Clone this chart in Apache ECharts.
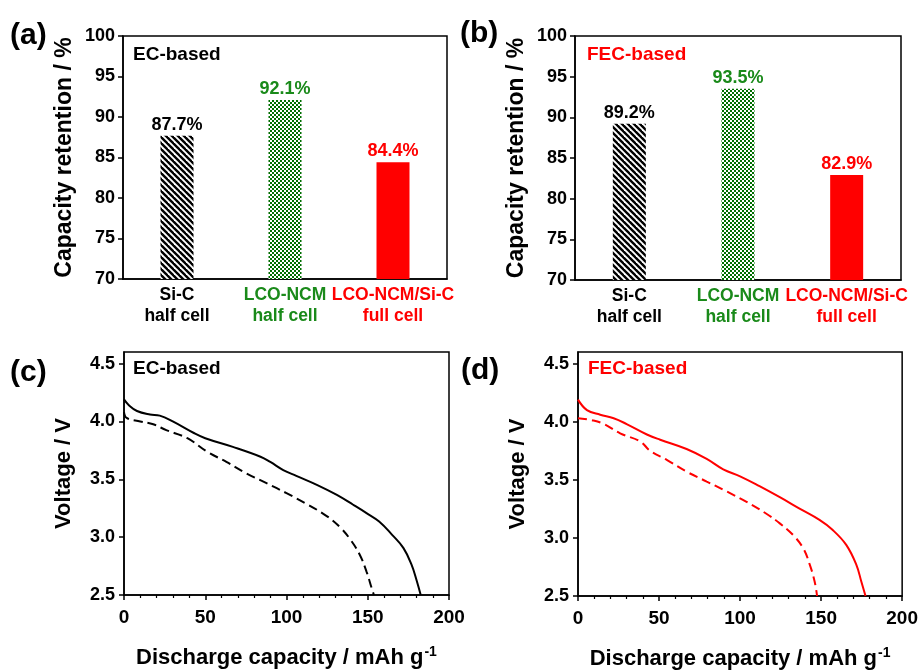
<!DOCTYPE html>
<html>
<head>
<meta charset="utf-8">
<title>Capacity retention and discharge curves</title>
<script src="https://cdn.jsdelivr.net/npm/echarts@6/dist/echarts.min.js"></script>
<style>
  html, body { margin: 0; padding: 0; background: #fff; }
  #main { width: 921px; height: 671px; }
</style>
</head>
<body>
<div id="main"></div>
<script>
// bar panels (a) EC, (b) FEC
const categories = ['Si-C\nhalf cell', 'LCO-NCM\nhalf cell', 'LCO-NCM/Si-C\nfull cell']
const ecRetention = [87.7, 92.1, 84.4]
const fecRetention = [89.2, 93.5, 82.9]

// discharge curves [capacity, voltage], solid = first, dashed = last
const ecFirst = [
  [0, 4.19], [3, 4.14], [8, 4.09], [16, 4.06], [22, 4.05], [30, 4.0], [43, 3.9],
  [50, 3.855], [67, 3.78], [84, 3.695], [90, 3.65], [98, 3.58], [106, 3.53],
  [119, 3.45], [131, 3.365], [141, 3.28], [149, 3.21], [157, 3.135], [165, 3.02],
  [172, 2.905], [177, 2.76], [180, 2.63], [182.6, 2.5]
]
const ecLast = [
  [0, 4.08], [1.6, 4.03], [10, 4.0], [18, 3.975], [26, 3.925], [39, 3.855],
  [51, 3.74], [63, 3.65], [75.5, 3.55], [88, 3.465], [100, 3.38], [112, 3.29],
  [125, 3.18], [133, 3.085], [139, 2.985], [145, 2.85], [149.3, 2.7],
  [152.4, 2.56], [153.8, 2.5]
]
const fecFirst = [
  [0, 4.19], [5.5, 4.1], [13.7, 4.06], [22, 4.03], [30, 3.98], [42.5, 3.89],
  [50.7, 3.845], [67, 3.765], [79.4, 3.68], [89.6, 3.59], [100, 3.53],
  [112, 3.445], [124.5, 3.35], [137, 3.25], [149, 3.155], [157, 3.07],
  [165.5, 2.94], [171.7, 2.77], [174.8, 2.625], [177.4, 2.5]
]
const fecLast = [
  [0, 4.03], [9.6, 4.01], [16, 3.98], [26, 3.9], [38.4, 3.83], [44.5, 3.75],
  [55, 3.67], [67, 3.57], [79.4, 3.485], [91.7, 3.4], [104, 3.31], [116, 3.21],
  [124.5, 3.125], [132.7, 3.025], [139, 2.91], [143, 2.77], [146, 2.625],
  [147.5, 2.5]
]

const barTicks = [70, 75, 80, 85, 90, 95, 100]
const voltTicks = [2.5, 3.0, 3.5, 4.0, 4.5]

const GREEN = '#1a8a1a'
const RED = '#ff0000'
const FONT = 'Liberation Sans, Arial, sans-serif'

function stripePattern() {
  const s = 6
  const c = document.createElement('canvas')
  c.width = s
  c.height = s
  const ctx = c.getContext('2d')
  ctx.fillStyle = '#fff'
  ctx.fillRect(0, 0, s, s)
  ctx.strokeStyle = '#000'
  ctx.lineWidth = 2.4
  for (const o of [-s, 0, s]) {
    ctx.beginPath()
    ctx.moveTo(o - 1, -1)
    ctx.lineTo(o + s + 1, s + 1)
    ctx.stroke()
  }
  return c
}

function checkerPattern() {
  const c = document.createElement('canvas')
  c.width = 4
  c.height = 4
  const ctx = c.getContext('2d')
  ctx.fillStyle = '#fff'
  ctx.fillRect(0, 0, 4, 4)
  ctx.fillStyle = '#006e00'
  ctx.fillRect(0, 0, 2, 2)
  ctx.fillRect(2, 2, 2, 2)
  return c
}

const stripes = stripePattern()
const checker = checkerPattern()
const barColors = [
  { image: stripes, repeat: 'repeat' },
  { image: checker, repeat: 'repeat' },
  RED
]
const labelColors = ['#000', GREEN, RED]

function barData(values) {
  return values.map((v, i) => ({
    value: v,
    itemStyle: { color: barColors[i] },
    label: { color: labelColors[i] }
  }))
}

const grids = [
  { left: 123, top: 36, width: 324, height: 243 },
  { left: 575, top: 36, width: 326, height: 244 },
  { left: 124, top: 352, width: 325, height: 243 },
  { left: 578, top: 352, width: 325, height: 244 }
].map(g => Object.assign(g, { show: true, borderColor: '#000', borderWidth: 1.5, backgroundColor: 'transparent' }))

function catAxis(idx) {
  return {
    type: 'category',
    gridIndex: idx,
    data: categories.map((c, i) => ({ value: c, textStyle: { color: labelColors[i] } })),
    axisLine: { lineStyle: { color: '#000', width: 1.5 } },
    axisTick: { show: false },
    axisLabel: { fontFamily: FONT, fontWeight: 'bold', fontSize: 17.5, lineHeight: 21, margin: 6, interval: 0 }
  }
}

function barYAxis(idx) {
  return {
    type: 'value',
    gridIndex: idx,
    min: 70,
    max: 100,
    interval: 5,
    name: 'Capacity retention / %',
    nameLocation: 'middle',
    nameGap: 47,
    nameTextStyle: { fontFamily: FONT, fontWeight: 'bold', fontSize: 23, color: '#000' },
    axisLine: { show: true, lineStyle: { color: '#000', width: 1.5 } },
    axisTick: { show: true, length: 5, lineStyle: { color: '#000', width: 1.5 }, customValues: barTicks },
    axisLabel: { fontFamily: FONT, fontWeight: 'bold', fontSize: 18, color: '#000', margin: 8, customValues: barTicks },
    splitLine: { show: false }
  }
}

function capAxis(idx) {
  return {
    type: 'value',
    gridIndex: idx,
    min: 0,
    max: 200,
    interval: 50,
    name: '{a|Discharge capacity / mAh g}{s|-1}',
    nameLocation: 'middle',
    nameGap: 50,
    nameTextStyle: {
      rich: {
        a: { fontFamily: FONT, fontWeight: 'bold', fontSize: 22, color: '#000', lineHeight: 26 },
        s: { fontFamily: FONT, fontWeight: 'bold', fontSize: 14, color: '#000', lineHeight: 26, verticalAlign: 'top', padding: [0, 0, 10, 1] }
      }
    },
    axisLine: { onZero: false, lineStyle: { color: '#000', width: 1.5 } },
    axisTick: { show: true, length: 5, lineStyle: { color: '#000', width: 1.5 } },
    minorTick: { show: true, splitNumber: 5, length: 3, lineStyle: { color: '#000', width: 1.2 } },
    axisLabel: { fontFamily: FONT, fontWeight: 'bold', fontSize: 19, color: '#000', margin: 13 },
    splitLine: { show: false }
  }
}

function voltAxis(idx) {
  return {
    type: 'value',
    gridIndex: idx,
    min: 2.5,
    max: 4.6,
    name: 'Voltage / V',
    nameLocation: 'middle',
    nameGap: 49,
    nameTextStyle: { fontFamily: FONT, fontWeight: 'bold', fontSize: 22, color: '#000' },
    axisLine: { show: true, onZero: false, lineStyle: { color: '#000', width: 1.5 } },
    axisTick: { show: true, length: 5, lineStyle: { color: '#000', width: 1.5 }, customValues: voltTicks },
    axisLabel: {
      fontFamily: FONT, fontWeight: 'bold', fontSize: 18, color: '#000', margin: 9,
      customValues: voltTicks,
      formatter: v => v.toFixed(1)
    },
    splitLine: { show: false }
  }
}

function barSeries(idx, values) {
  return {
    type: 'bar',
    xAxisIndex: idx,
    yAxisIndex: idx,
    data: barData(values),
    barWidth: 33,
    label: {
      show: true,
      position: 'top',
      distance: 2,
      fontFamily: FONT,
      fontWeight: 'bold',
      fontSize: 18,
      formatter: p => p.value.toFixed(1) + '%'
    }
  }
}

function curve(idx, data, color, dashed) {
  return {
    type: 'line',
    xAxisIndex: idx,
    yAxisIndex: idx,
    data: data,
    smooth: 0.4,
    showSymbol: false,
    symbol: 'none',
    clip: true,
    lineStyle: { color: color, width: 2, type: dashed ? [9, 5] : 'solid' },
    animation: false
  }
}

function panelText(left, top, text, size, color) {
  return {
    type: 'text',
    left: left,
    top: top,
    style: { text: text, fontFamily: FONT, fontWeight: 'bold', fontSize: size, fill: color }
  }
}

const chart = echarts.init(document.getElementById('main'))
chart.setOption({
  backgroundColor: '#fff',
  animation: false,
  grid: grids,
  xAxis: [catAxis(0), catAxis(1), capAxis(2), capAxis(3)],
  yAxis: [barYAxis(0), barYAxis(1), voltAxis(2), voltAxis(3)],
  series: [
    barSeries(0, ecRetention),
    barSeries(1, fecRetention),
    curve(2, ecFirst, '#000', false),
    curve(2, ecLast, '#000', true),
    curve(3, fecFirst, RED, false),
    curve(3, fecLast, RED, true)
  ],
  graphic: [
    panelText(10, 21, '(a)', 30, '#000'),
    panelText(460, 19, '(b)', 30, '#000'),
    panelText(10, 358, '(c)', 30, '#000'),
    panelText(461, 356, '(d)', 30, '#000'),
    panelText(133, 45, 'EC-based', 19, '#000'),
    panelText(587, 45, 'FEC-based', 19, RED),
    panelText(133, 359, 'EC-based', 19, '#000'),
    panelText(588, 359, 'FEC-based', 19, RED)
  ]
})
</script>
</body>
</html>
